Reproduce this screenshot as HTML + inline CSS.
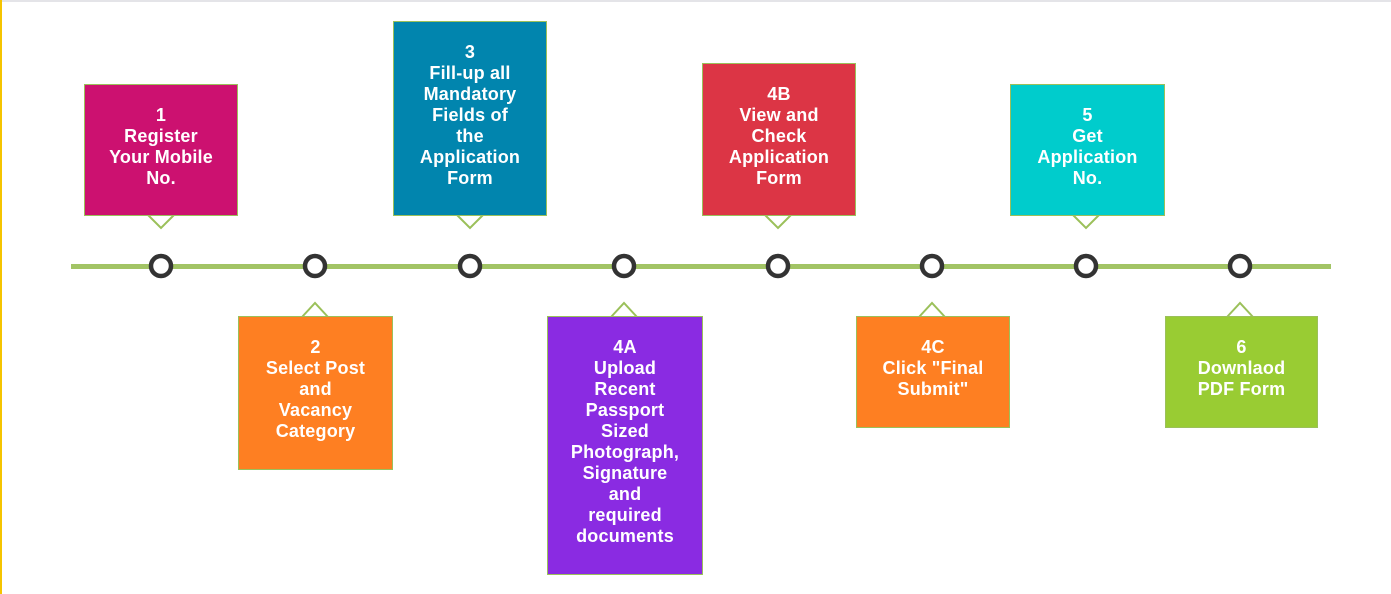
<!DOCTYPE html>
<html><head><meta charset="utf-8"><style>
*{margin:0;padding:0;box-sizing:border-box}
body{width:1391px;height:594px;background:#fff;position:relative;overflow:hidden;font-family:"Liberation Sans",sans-serif}
.b{position:absolute;border:1px solid #9bc05a;color:#fff;font-weight:bold;font-size:18px;line-height:21px;letter-spacing:0.2px;text-align:center;display:flex;align-items:center;justify-content:center;padding-bottom:7px}
</style></head><body>
<div style="position:absolute;left:0;top:0;width:1391px;height:2px;background:#e4e4e8"></div>
<div style="position:absolute;left:0;top:0;width:2px;height:594px;background:#f5c400"></div>
<svg width="1391" height="594" style="position:absolute;left:0;top:0">
<rect x="71" y="264" width="1260" height="5" fill="#a2c465"/>
<g fill="#fff" stroke="#9bc05a" stroke-width="2">
<polyline points="148,215 161,228 174,215"/>
<polyline points="457,215 470,228 483,215"/>
<polyline points="765,215 778,228 791,215"/>
<polyline points="1073,215 1086,228 1099,215"/>
<polyline points="302,317 315,303 328,317"/>
<polyline points="611,317 624,303 637,317"/>
<polyline points="919,317 932,303 945,317"/>
<polyline points="1227,317 1240,303 1253,317"/>
</g>
<g fill="#fff" stroke="#333" stroke-width="4.5">
<circle cx="161" cy="266" r="10"/><circle cx="315" cy="266" r="10"/><circle cx="470" cy="266" r="10"/><circle cx="624" cy="266" r="10"/>
<circle cx="778" cy="266" r="10"/><circle cx="932" cy="266" r="10"/><circle cx="1086" cy="266" r="10"/><circle cx="1240" cy="266" r="10"/>
</g>
</svg>
<div class="b" style="left:84px;top:84px;width:154px;height:132px;background:#cc1170">1<br>Register<br>Your Mobile<br>No.</div>
<div class="b" style="left:393px;top:21px;width:154px;height:195px;background:#0185ae">3<br>Fill-up all<br>Mandatory<br>Fields of<br>the<br>Application<br>Form</div>
<div class="b" style="left:702px;top:63px;width:154px;height:153px;background:#dc3545">4B<br>View and<br>Check<br>Application<br>Form</div>
<div class="b" style="left:1010px;top:84px;width:155px;height:132px;background:#00cccc">5<br>Get<br>Application<br>No.</div>
<div class="b" style="left:238px;top:316px;width:155px;height:154px;background:#fe7f22">2<br>Select Post<br>and<br>Vacancy<br>Category</div>
<div class="b" style="left:547px;top:316px;width:156px;height:259px;background:#8a2be2">4A<br>Upload<br>Recent<br>Passport<br>Sized<br>Photograph,<br>Signature<br>and<br>required<br>documents</div>
<div class="b" style="left:856px;top:316px;width:154px;height:112px;background:#fe7f22">4C<br>Click "Final<br>Submit"</div>
<div class="b" style="left:1165px;top:316px;width:153px;height:112px;background:#99cc33">6<br>Downlaod<br>PDF Form</div>
</body></html>
